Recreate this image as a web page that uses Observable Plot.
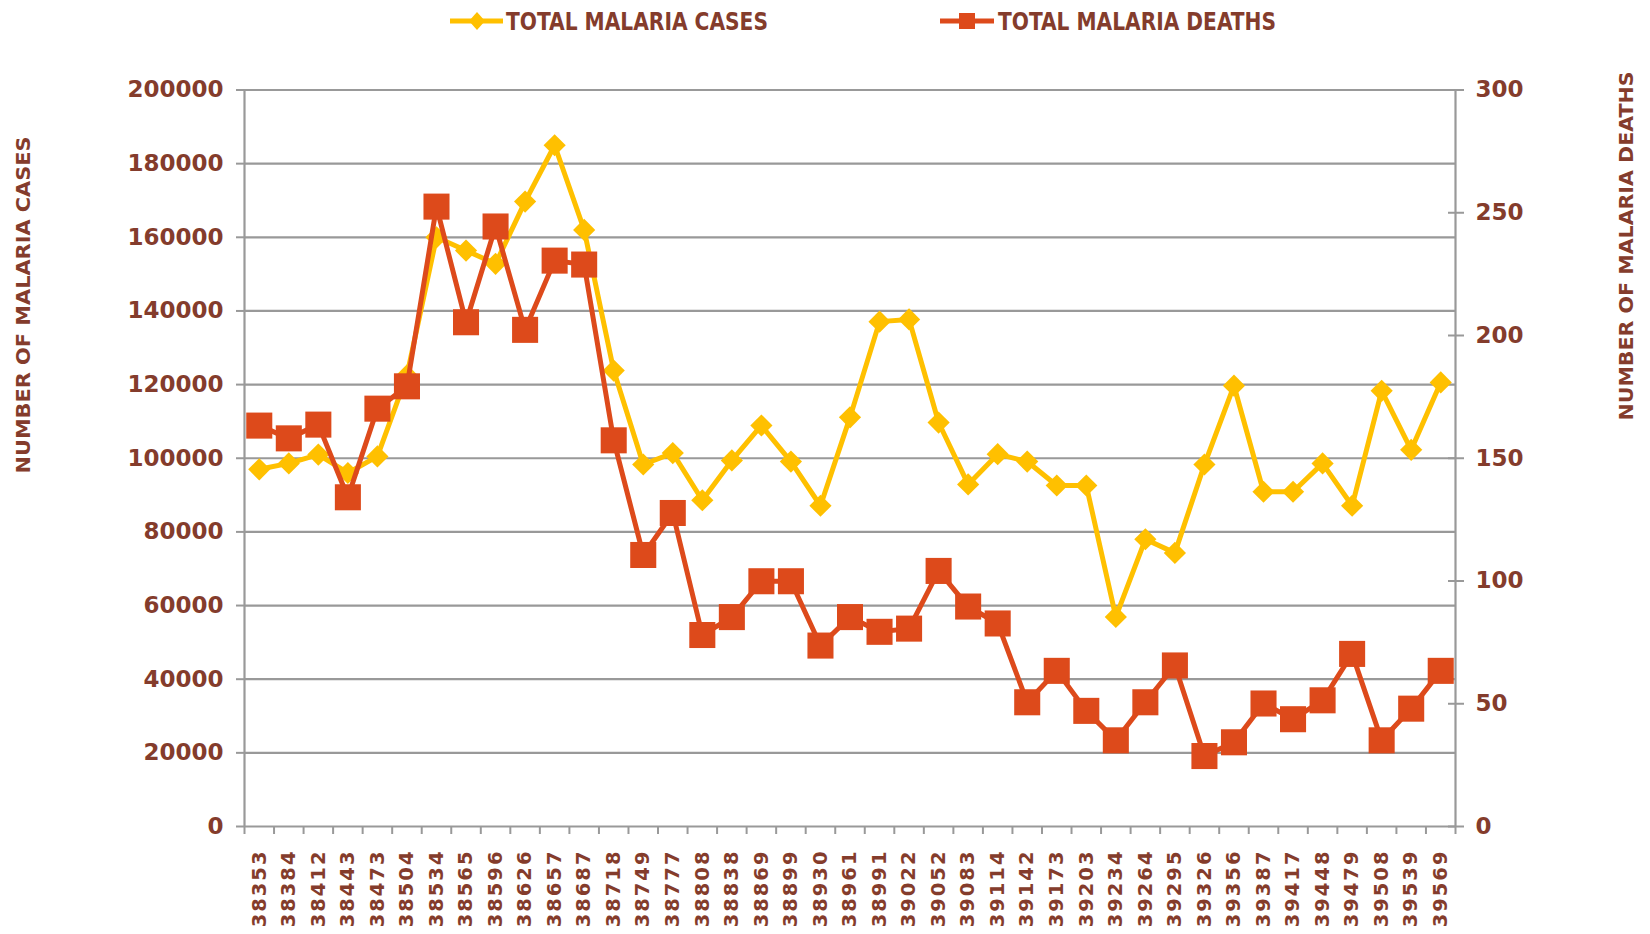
<!DOCTYPE html>
<html><head><meta charset="utf-8">
<script src="https://cdn.jsdelivr.net/npm/d3@7"></script>
<script src="https://cdn.jsdelivr.net/npm/@observablehq/plot@0.6"></script>
<style>
body{margin:0;background:#fff;}
#wrap{position:relative;width:1650px;height:934px;overflow:hidden;background:#fff}
#wrap svg{position:absolute;left:0;top:0}
</style></head><body><div id="wrap"></div>
<script>
const dates = ["38353","38384","38412","38443","38473","38504","38534","38565","38596","38626","38657","38687","38718","38749","38777","38808","38838","38869","38899","38930","38961","38991","39022","39052","39083","39114","39142","39173","39203","39234","39264","39295","39326","39356","39387","39417","39448","39479","39508","39539","39569"];
const cases = [97000,98600,101000,96000,100500,122500,160000,156400,152800,169700,185000,162000,123800,98300,101400,88600,99400,108900,99100,87100,111100,137100,137700,109700,92900,101100,99100,92600,92600,56900,78000,74300,98300,119700,90900,90900,98600,87100,118300,102300,120600];
const deaths = [163.3,158.1,163.7,134.1,170.2,179.3,252.5,205.4,244.4,202.3,230.5,228.9,157.3,110.6,127.7,78,85.3,99.9,99.9,73.7,85.3,79.3,80.6,104.1,89.6,82.7,50.6,63.4,47.1,35.1,50.6,65.6,28.7,34.3,50.1,43.7,51.4,70.3,35.1,48,63.4];
const caseTicks = [0,20000,40000,60000,80000,100000,120000,140000,160000,180000,200000];
const deathTicks = [0,50,100,150,200,250,300];
const seriesNames = ["TOTAL MALARIA CASES","TOTAL MALARIA DEATHS"];
const axisTitles = ["NUMBER OF MALARIA  CASES","NUMBER OF MALARIA DEATHS"];

const K = 200000/300;
const rows = dates.map((d,i)=>({i, date:d, cases:cases[i], deaths:deaths[i]}));
const TXT = "#843c2c", GRID = "#999999", YEL = "#FFC000", RED = "#DD4A1B";

const plot = Plot.plot({
  width:1650, height:934, marginTop:89.5, marginBottom:108, marginLeft:244, marginRight:195,
  x:{type:"linear", domain:[-0.5, 40.5]},
  y:{domain:[0,200000]},
  style:{fontFamily:"DejaVu Sans", background:"white", overflow:"visible"},
  marks:[
    Plot.gridY(caseTicks.filter(v=>v>0), {stroke:GRID, strokeOpacity:1, strokeWidth:2.2}),
    Plot.axisY(caseTicks, {anchor:"left", tickSize:8, tickPadding:13, stroke:GRID, strokeWidth:2, fill:TXT, fontSize:23, fontWeight:"bold", label:null, tickFormat:d=>String(d)}),
    Plot.axisY(deathTicks.map(v=>v*K), {anchor:"right", tickSize:8, tickPadding:12, stroke:GRID, strokeWidth:2, fill:TXT, fontSize:23, fontWeight:"bold", label:null, tickFormat:v=>String(Math.round(v/K))}),
    Plot.axisY(deathTicks.map(v=>v*K), {anchor:"right", tickSize:8, dx:-8, stroke:GRID, strokeWidth:2, tickFormat:()=>"", label:null}),
    Plot.axisX(d3.range(42).map(i=>i-0.5), {anchor:"bottom", tickSize:8, stroke:GRID, strokeWidth:2, tickFormat:()=>"", label:null}),
    Plot.axisX(d3.range(41), {anchor:"bottom", tickSize:0, tickPadding:23, tickRotate:-90, fill:TXT, fontSize:19.5, fontWeight:"bold", tickFormat:i=>dates[i], label:null}),
    Plot.ruleX([-0.5, 40.5], {stroke:GRID, strokeWidth:2.2}),
    Plot.ruleY([0], {stroke:GRID, strokeWidth:2.2}),
    Plot.line(rows, {x:"i", y:"cases", stroke:YEL, strokeWidth:5}),
    Plot.dot(rows, {x:"i", y:"cases", symbol:"diamond2", r:10, fill:YEL, stroke:null}),
    Plot.line(rows, {x:"i", y:d=>d.deaths*K, stroke:RED, strokeWidth:5}),
    Plot.dot(rows, {x:"i", y:d=>d.deaths*K, symbol:"square", r:14.7, fill:RED, stroke:null})
  ]
});
d3.select(plot).selectAll('g[aria-label="x-axis tick label"] text').attr("letter-spacing", "2px");
const wrap = document.getElementById("wrap");
wrap.appendChild(plot);

// overlay: legend and axis titles
const ov = d3.select(wrap).append("svg").attr("width",1650).attr("height",934).style("pointer-events","none");
ov.append("line").attr("x1",450).attr("x2",503).attr("y1",21).attr("y2",21).attr("stroke",YEL).attr("stroke-width",5);
ov.append("path").attr("d","M477,12L485,21L477,30L469,21Z").attr("fill",YEL);
ov.append("text").attr("x",506).attr("y",30).attr("textLength",262).attr("lengthAdjust","spacingAndGlyphs")
  .attr("font-family","'Liberation Sans Narrow','DejaVu Sans Condensed',sans-serif").attr("font-weight","bold").attr("font-size",25)
  .attr("fill",TXT).text(seriesNames[0]);
ov.append("line").attr("x1",940).attr("x2",994).attr("y1",21).attr("y2",21).attr("stroke",RED).attr("stroke-width",5);
ov.append("rect").attr("x",959).attr("y",13).attr("width",16).attr("height",16).attr("fill",RED);
ov.append("text").attr("x",998).attr("y",30).attr("textLength",278).attr("lengthAdjust","spacingAndGlyphs")
  .attr("font-family","'Liberation Sans Narrow','DejaVu Sans Condensed',sans-serif").attr("font-weight","bold").attr("font-size",25)
  .attr("fill",TXT).text(seriesNames[1]);
ov.append("text").attr("transform","translate(23,305) rotate(-90)").attr("text-anchor","middle").attr("dominant-baseline","central")
  .attr("textLength",337).attr("lengthAdjust","spacingAndGlyphs")
  .attr("font-family","'DejaVu Sans',sans-serif").attr("font-weight","bold").attr("font-size",20).attr("fill",TXT).text(axisTitles[0]);
ov.append("text").attr("transform","translate(1626,246) rotate(-90)").attr("text-anchor","middle").attr("dominant-baseline","central")
  .attr("textLength",349).attr("lengthAdjust","spacingAndGlyphs")
  .attr("font-family","'DejaVu Sans',sans-serif").attr("font-weight","bold").attr("font-size",20).attr("fill",TXT).text(axisTitles[1]);
</script></body></html>
